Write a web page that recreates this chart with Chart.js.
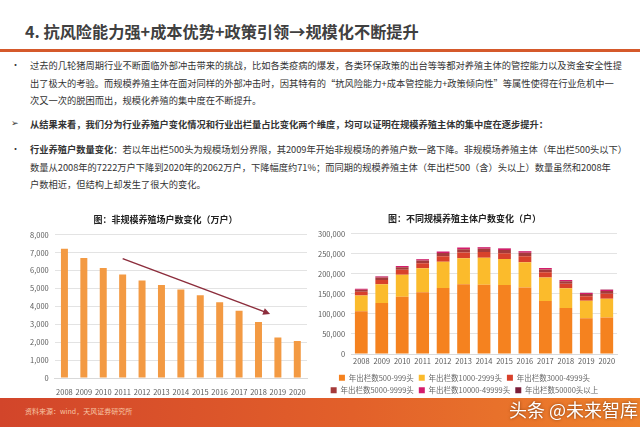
<!DOCTYPE html>
<html>
<head>
<meta charset="utf-8">
<script src="https://cdn.jsdelivr.net/npm/chart.js@4.4.1/dist/chart.umd.min.js"></script>
<style>
  body { margin: 0; width: 640px; height: 427px; position: relative; overflow: hidden; background: #fff;
         font-family: "Noto Sans CJK SC", "Noto Sans", sans-serif; color: #333; }
  .t { position: absolute; white-space: nowrap; }
  #title { left: 25px; top: 19px; font-size: 16.2px; font-weight: bold; color: #404040; }
  #rule { position: absolute; left: 0; top: 49px; width: 640px; height: 3px; background: #d5592b; }
  .p { font-size: 9.25px; line-height: 17.5px; left: 30px; }
  .mk { font-size: 9px; left: 11px; }
  #footer { position: absolute; left: 0; top: 398px; width: 640px; height: 29px;
            background: linear-gradient(90deg, #d2452a 0%, #e2602a 55%, #ee822c 100%); }
  #src { left: 25px; top: 406px; font-size: 7px; color: #f6c6a6; }
  #wm { left: 509px; top: 396px; font-size: 18px; color: #fff; text-shadow: 0 0 3px #7a3a10; }
  canvas { position: absolute; }
</style>
</head>
<body>
<div class="t" id="title">4. 抗风险能力强+成本优势+政策引领→规模化不断提升</div>
<div id="rule"></div>

<div class="t mk" style="top:58px">•</div>
<div class="t p" style="top:57px">过去的几轮猪周期行业不断面临外部冲击带来的挑战，比如各类疫病的爆发，各类环保政策的出台等等都对养殖主体的管控能力以及资金安全性提<br>出了极大的考验。而规模养殖主体在面对同样的外部冲击时，因其特有的“抗风险能力+成本管控能力+政策倾向性”等属性使得在行业危机中一<br>次又一次的脱困而出，规模化养殖的集中度在不断提升。</div>

<div class="t mk" style="top:116px">➢</div>
<div class="t p" style="top:116px;font-weight:bold">从结果来看，我们分为行业养殖户变化情况和行业出栏量占比变化两个维度，均可以证明在规模养殖主体的集中度在逐步提升：</div>

<div class="t mk" style="top:142px">•</div>
<div class="t p" style="top:141px"><b>行业养殖户数量变化</b>：若以年出栏500头为规模场划分界限，其2009年开始非规模场的养殖户数一路下降。非规模场养殖主体（年出栏500头以下）<br>数量从2008年的7222万户下降到2020年的2062万户，下降幅度约71%；而同期的规模养殖主体（年出栏500（含）头以上）数量虽然和2008年<br>户数相近，但结构上却发生了很大的变化。</div>

<canvas id="leftChart" width="315" height="195" style="left:0;top:204px"></canvas>
<canvas id="rightChart" width="315" height="200" style="left:312px;top:204px"></canvas>

<div id="footer"></div>
<div class="t" id="src">资料来源：wind，天风证券研究所</div>
<div class="t" id="wm">头条 @未来智库</div>

<script>
const years = ['2008', '2009', '2010', '2011', '2012', '2013', '2014', '2015', '2016', '2017', '2018', '2019', '2020'];

// 非规模养殖场户数（万户）
const smallFarms = [7222, 6700, 6150, 5780, 5450, 5200, 4950, 4620, 4230, 3760, 3130, 2260, 2062];

// 不同规模养殖主体户数（户）
const scaleLabels = ['年出栏数500-999头', '年出栏数1000-2999头', '年出栏数3000-4999头',
                     '年出栏数5000-9999头', '年出栏数10000-49999头', '年出栏数50000头以上'];
const s500 = [107000, 127000, 143000, 154000, 165000, 174000, 173000, 172000, 166000, 132000, 115000, 89000, 91000];
const s1000 = [39000, 47000, 55000, 60000, 65000, 65000, 67000, 65000, 63000, 59000, 49000, 44000, 47000];
const s3000 = [9500, 11000, 12000, 12500, 14000, 14500, 14500, 14500, 15000, 13000, 11500, 11000, 12500];
const s5000 = [5000, 6000, 6500, 7000, 8000, 8000, 8000, 8000, 8500, 7000, 6000, 5500, 6500];
const s10000 = [2300, 2700, 3200, 3200, 3600, 4000, 4000, 4000, 4000, 3500, 3000, 3000, 3500];
const s50000 = [100, 200, 200, 200, 300, 300, 400, 400, 400, 400, 400, 400, 500];
const scaleColors = ['#f5821f', '#fbbb2c', '#d8412b', '#a53a3a', '#d41c6c', '#7a1d38'];

// trend arrow on left chart (category index, value)
const arrowFrom = [3, 6670];
const arrowTo = [10.6, 3580];

Chart.defaults.font.family = '"Noto Sans CJK SC", "Noto Sans", sans-serif';
Chart.defaults.color = '#595959';
Chart.defaults.animation = false;

const arrowPlugin = {
    id: 'trendArrow',
    afterDatasetsDraw(chart) {
        const x = chart.scales.x, y = chart.scales.y, ctx = chart.ctx;
        const x1 = x.getPixelForValue(arrowFrom[0]), y1 = y.getPixelForValue(arrowFrom[1]);
        const x2 = x.getPixelForValue(arrowTo[0]), y2 = y.getPixelForValue(arrowTo[1]);
        const a = Math.atan2(y2 - y1, x2 - x1);
        ctx.save();
        ctx.strokeStyle = '#8c2d3c';
        ctx.fillStyle = '#8c2d3c';
        ctx.lineWidth = 1.5;
        ctx.beginPath();
        ctx.moveTo(x1, y1);
        ctx.lineTo(x2 - 5 * Math.cos(a), y2 - 5 * Math.sin(a));
        ctx.stroke();
        ctx.beginPath();
        ctx.moveTo(x2, y2);
        ctx.lineTo(x2 - 7 * Math.cos(a) + 3.5 * Math.sin(a), y2 - 7 * Math.sin(a) - 3.5 * Math.cos(a));
        ctx.lineTo(x2 - 7 * Math.cos(a) - 3.5 * Math.sin(a), y2 - 7 * Math.sin(a) + 3.5 * Math.cos(a));
        ctx.closePath();
        ctx.fill();
        ctx.restore();
    }
};

// 非规模养殖场户数变化
new Chart(document.getElementById('leftChart'), {
    type: 'bar',
    data: {
        labels: years,
        datasets: [{
            data: smallFarms,
            backgroundColor: '#f39a43',
            categoryPercentage: 0.8,
            barPercentage: 0.45
        }]
    },
    options: {
        responsive: false,
        layout: { padding: { left: 24, right: 8 } },
        plugins: {
            legend: { display: false },
            tooltip: { enabled: false },
            title: {
                display: true,
                text: '图：非规模养殖场户数变化（万户）',
                color: '#222',
                font: { size: 9, weight: 'bold' },
                padding: { top: 10, bottom: 10 }
            }
        },
        scales: {
            x: {
                grid: { display: false },
                border: { color: '#d9d9d9' },
                ticks: { font: { size: 7.5 }, maxRotation: 0, autoSkip: false, padding: 2 }
            },
            y: {
                min: 0, max: 8000,
                ticks: { stepSize: 1000, font: { size: 7.5 }, padding: 6 },
                grid: { color: '#e3e3e3', drawTicks: false },
                border: { display: false }
            }
        }
    },
    plugins: [arrowPlugin]
});

// 不同规模养殖主体户数变化
const series = [s500, s1000, s3000, s5000, s10000, s50000];
new Chart(document.getElementById('rightChart'), {
    type: 'bar',
    data: {
        labels: years,
        datasets: series.map((d, i) => ({
            label: scaleLabels[i],
            data: d,
            backgroundColor: scaleColors[i],
            categoryPercentage: 0.8,
            barPercentage: 0.78
        }))
    },
    options: {
        responsive: false,
        layout: { padding: { left: 0, right: 10, bottom: 0 } },
        plugins: {
            tooltip: { enabled: false },
            title: {
                display: true,
                text: '图：不同规模养殖主体户数变化（户）',
                color: '#222',
                font: { size: 9, weight: 'bold' },
                padding: { top: 9, bottom: 10 }
            },
            legend: {
                position: 'bottom',
                labels: { boxWidth: 6, boxHeight: 6, font: { size: 7.5 }, padding: 5, color: '#666' }
            }
        },
        scales: {
            x: {
                stacked: true,
                grid: { display: false, drawTicks: false },
                border: { color: '#d9d9d9' },
                ticks: { font: { size: 7.5 }, maxRotation: 0, autoSkip: false, padding: 3 }
            },
            y: {
                stacked: true,
                min: 0, max: 300000,
                ticks: { stepSize: 50000, font: { size: 7.5 }, padding: 6 },
                grid: { color: '#e3e3e3', drawTicks: false },
                border: { display: false }
            }
        }
    }
});
</script>
</body>
</html>
